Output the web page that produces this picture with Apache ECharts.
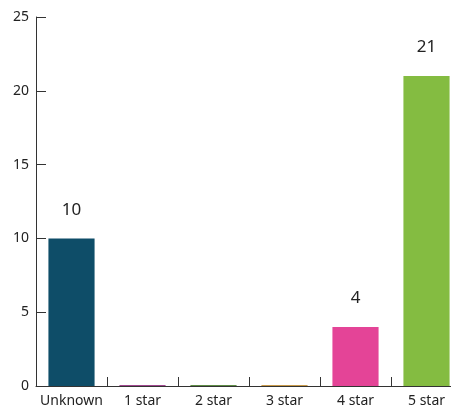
<!DOCTYPE html>
<html>
<head>
<meta charset="utf-8">
<script src="https://cdn.jsdelivr.net/npm/echarts@6/dist/echarts.min.js"></script>
<style>
  html, body { margin: 0; padding: 0; background: #ffffff; overflow: hidden; width: 451px; height: 409px; }
  /* The plot runs slightly past the right edge of the page, so the last bar is cut off */
  #chart { width: 462px; height: 409px; }
</style>
</head>
<body>
<div id="chart"></div>
<script>
// Rating categories and counts
const categories = ['Unknown', '1 star', '2 star', '3 star', '4 star', '5 star'];
const counts = [10, 0, 0, 0, 4, 21];
const barColors = ['#0e4d68', '#a0478f', '#5e8c45', '#c99a4a', '#e44497', '#84bc41'];
const yTicks = { min: 0, max: 25, interval: 5 };

const chart = echarts.init(document.getElementById('chart'), null, { renderer: 'canvas' });

const font = '"Noto Sans", sans-serif';

chart.setOption({
  animation: false,
  backgroundColor: '#ffffff',
  grid: { left: 36, top: 17, right: 0, bottom: 23, containLabel: false },
  xAxis: {
    type: 'category',
    data: categories,
    axisLine: { show: true, lineStyle: { color: '#333333', width: 1 } },
    axisTick: { show: true, inside: true, length: 9, interval: 0, lineStyle: { color: '#333333' } },
    axisLabel: { color: '#222222', fontSize: 14, fontFamily: font, margin: 8, interval: 0 },
    splitLine: { show: false }
  },
  yAxis: {
    type: 'value',
    min: yTicks.min,
    max: yTicks.max,
    interval: yTicks.interval,
    axisLine: { show: true, lineStyle: { color: '#333333', width: 1 } },
    axisTick: { show: true, inside: true, length: 10, lineStyle: { color: '#333333' } },
    axisLabel: { color: '#222222', fontSize: 14, fontFamily: font, margin: 7 },
    splitLine: { show: false }
  },
  series: [{
    type: 'bar',
    data: counts.map((v, i) => ({ value: v, itemStyle: { color: barColors[i] } })),
    barCategoryGap: '35%',
    barMinHeight: 1,
    label: {
      show: true,
      position: 'top',
      distance: 20,
      color: '#222222',
      fontSize: 17,
      fontFamily: font,
      formatter: p => (p.value > 0 ? String(p.value) : '')
    }
  }]
});
</script>
</body>
</html>
